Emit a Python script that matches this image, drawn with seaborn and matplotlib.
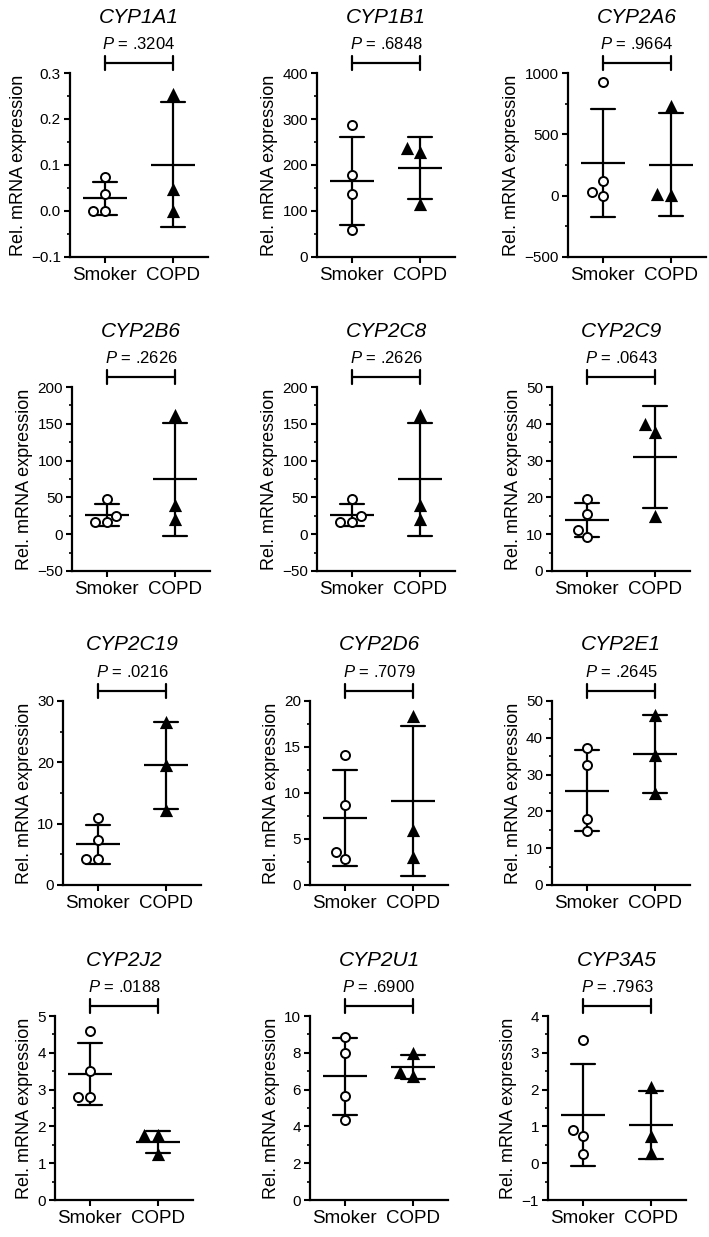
import numpy as np
import pandas as pd
import matplotlib
matplotlib.use('Agg')
import matplotlib.pyplot as plt
import matplotlib.transforms as mtransforms
from matplotlib.ticker import MultipleLocator, AutoMinorLocator, FuncFormatter
import seaborn as sns

# genes, P values and read-off expression values
genes = ['CYP1A1', 'CYP1B1', 'CYP2A6', 'CYP2B6', 'CYP2C8', 'CYP2C9',
         'CYP2C19', 'CYP2D6', 'CYP2E1', 'CYP2J2', 'CYP2U1', 'CYP3A5']
p_values = ['.3204', '.6848', '.9664', '.2626', '.2626', '.0643',
            '.0216', '.7079', '.2645', '.0188', '.6900', '.7963']
groups = ['Smoker', 'COPD']

smoker = [
    [0.074, 0.036, 0.0, 0.0],
    [287, 179, 137, 58],
    [927, 116, 0, 27],
    [48, 25, 16, 16],
    [48, 25, 16, 16],
    [19.5, 15.5, 11.1, 9.3],
    [10.9, 7.3, 4.2, 4.2],
    [14.1, 8.7, 3.6, 2.8],
    [37.3, 32.6, 17.8, 14.8],
    [4.6, 3.5, 2.8, 2.8],
    [8.87, 8.0, 5.64, 4.36],
    [3.36, 0.9, 0.75, 0.25],
]
copd = [
    [0.255, 0.047, 0.0],
    [236, 228, 115],
    [735, 5, 15],
    [162, 40, 21],
    [162, 40, 21],
    [40, 37.7, 15],
    [26.6, 19.6, 12.3],
    [18.4, 6.0, 3.0],
    [46.2, 35.3, 25.1],
    [1.76, 1.76, 1.24],
    [8.0, 6.75, 6.95],
    [2.07, 0.75, 0.29],
]

# y axis ranges
y_min = [-0.1, 0, -500, -50, -50, 0, 0, 0, 0, 0, 0, -1]
y_max = [0.3, 400, 1000, 200, 200, 50, 30, 20, 50, 5, 10, 4]
y_step = [0.1, 100, 500, 50, 50, 10, 10, 5, 10, 1, 2, 1]
y_dec = [1] + [0] * 11

sns.set_theme(style='ticks')
plt.rcParams['font.family'] = ['Liberation Sans', 'DejaVu Sans']
plt.rcParams['mathtext.fontset'] = 'custom'
plt.rcParams['mathtext.it'] = 'Liberation Sans:italic'
plt.rcParams['mathtext.rm'] = 'Liberation Sans'
plt.rcParams['text.color'] = 'black'
plt.rcParams['axes.labelcolor'] = 'black'
plt.rcParams['xtick.color'] = 'black'
plt.rcParams['ytick.color'] = 'black'

W, H = 709, 1237
fig = plt.figure(figsize=(W / 100, H / 100), dpi=100)

# layout in pixels (left spine x, row top)
spine_x = [70, 317, 568, 72, 317, 552, 63, 310, 552, 55, 310, 548]
row_top = [73, 387, 701, 1016]
ax_w, ax_h = 138, 184


def make_fmt(dec):
    return FuncFormatter(lambda v, pos: f'{v:.{dec}f}'.replace('-', '\u2212'))


for i, gene in enumerate(genes):
    left = spine_x[i]
    top = row_top[i // 3]
    ax = fig.add_axes([left / W, 1 - (top + ax_h) / H, ax_w / W, ax_h / H])

    df = pd.DataFrame({
        'group': ['Smoker'] * len(smoker[i]) + ['COPD'] * len(copd[i]),
        'value': smoker[i] + copd[i],
    })

    # mean +/- SD
    sns.pointplot(data=df, x='group', y='value', order=groups, estimator='mean',
                  errorbar='sd', capsize=0.36, color='black', marker='_',
                  markersize=32, markeredgewidth=1.6, linestyle='none',
                  err_kws={'linewidth': 1.6}, ax=ax)

    sns.swarmplot(data=df[df.group == 'Smoker'], x='group', y='value', order=groups,
                  marker='o', size=6.5, color='white', edgecolor='black',
                  linewidth=1.4, zorder=3, ax=ax)
    sns.swarmplot(data=df[df.group == 'COPD'], x='group', y='value', order=groups,
                  marker='^', size=9.5, color='black', edgecolor='black',
                  linewidth=0, zorder=3, ax=ax)

    ax.set_xlim(-0.51, 1.51)
    ax.set_ylim(y_min[i], y_max[i])
    ax.yaxis.set_major_locator(MultipleLocator(y_step[i]))
    ax.yaxis.set_minor_locator(AutoMinorLocator(2))
    ax.yaxis.set_major_formatter(make_fmt(y_dec[i]))
    ax.set_xlabel('')
    ax.set_ylabel('Rel. mRNA expression', fontsize=13, labelpad=3)
    ax.tick_params(axis='y', which='major', length=4.5, width=1.5, labelsize=11,
                   pad=2)
    ax.tick_params(axis='y', which='minor', length=2.5, width=1.2)
    ax.tick_params(axis='x', length=4.5, width=1.5, labelsize=13.5, pad=3)
    sns.despine(ax=ax)
    for s in ['left', 'bottom']:
        ax.spines[s].set_linewidth(1.6)
        ax.spines[s].set_color('black')

    # significance bracket, P value and gene title
    trans = mtransforms.blended_transform_factory(ax.transData, ax.transAxes)
    yb = 1 + 10 / ax_h
    tk = 7 / ax_h
    ax.plot([0, 1], [yb, yb], color='black', lw=1.6, transform=trans, clip_on=False)
    for xx in (0, 1):
        ax.plot([xx, xx], [yb - tk, yb + tk], color='black', lw=1.6,
                transform=trans, clip_on=False)
    ax.text(0.5, 1 + 29 / ax_h, r'$\mathit{P}$ = ' + p_values[i], transform=trans,
            ha='center', va='center', fontsize=12)
    ax.text(0.5, 1 + 56 / ax_h, gene, transform=trans, ha='center', va='center',
            fontsize=15, style='italic')

fig.savefig('out.png', dpi=100)
